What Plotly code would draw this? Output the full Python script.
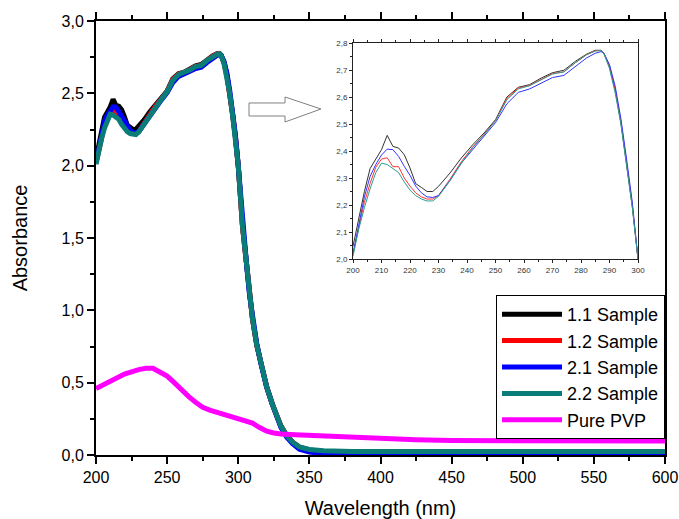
import plotly.graph_objects as go

# ---------------- data ----------------
wl_uv = [200, 202, 204, 206, 208, 210, 212, 214, 216, 218, 220, 222, 224, 226, 228,
         230, 234, 238, 242, 246, 250, 254, 258, 262, 266, 270, 274, 278, 282, 285,
         287, 288, 290, 292, 294, 296, 298, 300]
wl_tail = [303, 306, 308, 310, 313, 316, 320, 324, 327, 330, 334, 338, 343, 350, 360,
           380, 420, 500, 600]

s11_uv = [2.047, 2.15, 2.25, 2.335, 2.37, 2.405, 2.458, 2.417, 2.411, 2.386, 2.337, 2.279,
          2.265, 2.25, 2.25, 2.269, 2.318, 2.374, 2.423, 2.467, 2.516, 2.60, 2.636, 2.646,
          2.67, 2.69, 2.699, 2.732, 2.759, 2.773, 2.773, 2.763, 2.714, 2.627, 2.504, 2.356,
          2.195, 2.0]
s12_uv = [2.02, 2.12, 2.21, 2.28, 2.34, 2.37, 2.375, 2.342, 2.342, 2.30, 2.27, 2.245,
          2.23, 2.222, 2.222, 2.235, 2.295, 2.36, 2.415, 2.462, 2.513, 2.595, 2.633, 2.643,
          2.665, 2.687, 2.693, 2.727, 2.757, 2.772, 2.772, 2.762, 2.712, 2.625, 2.51, 2.36,
          2.20, 2.0]
s21_uv = [2.02, 2.13, 2.23, 2.306, 2.35, 2.385, 2.407, 2.405, 2.38, 2.343, 2.31, 2.27,
          2.245, 2.23, 2.228, 2.235, 2.29, 2.355, 2.405, 2.455, 2.505, 2.575, 2.617, 2.63,
          2.652, 2.672, 2.68, 2.713, 2.745, 2.762, 2.768, 2.763, 2.72, 2.64, 2.52, 2.37,
          2.21, 2.0]
s22_uv = [2.01, 2.11, 2.19, 2.26, 2.32, 2.355, 2.35, 2.335, 2.32, 2.285, 2.255, 2.235,
          2.222, 2.215, 2.215, 2.232, 2.29, 2.355, 2.412, 2.46, 2.512, 2.59, 2.63, 2.642,
          2.662, 2.685, 2.693, 2.727, 2.757, 2.77, 2.772, 2.762, 2.705, 2.615, 2.5, 2.35,
          2.19, 2.0]

s11_tail = [1.58, 1.28, 1.08, 0.94, 0.76, 0.62, 0.47, 0.35, 0.27, 0.20, 0.135, 0.09,
            0.055, 0.035, 0.025, 0.02, 0.02, 0.02, 0.02]
s12_tail = [1.58, 1.28, 1.08, 0.94, 0.76, 0.62, 0.47, 0.35, 0.27, 0.20, 0.135, 0.09,
            0.05, 0.03, 0.02, 0.015, 0.015, 0.015, 0.015]
s21_tail = [1.60, 1.30, 1.10, 0.96, 0.77, 0.63, 0.47, 0.35, 0.26, 0.19, 0.125, 0.08,
            0.04, 0.02, 0.01, 0.006, 0.006, 0.006, 0.006]
s22_tail = [1.58, 1.28, 1.08, 0.94, 0.76, 0.62, 0.47, 0.35, 0.27, 0.20, 0.135, 0.09,
            0.055, 0.038, 0.03, 0.025, 0.025, 0.025, 0.025]

wl_pvp = [200, 210, 220, 230, 235, 240, 245, 250, 255, 260, 265, 270, 275, 280, 290,
          300, 305, 310, 315, 320, 325, 330, 340, 350, 375, 400, 425, 450, 500, 550, 600]
pvp = [0.46, 0.51, 0.56, 0.59, 0.60, 0.60, 0.575, 0.545, 0.50, 0.45, 0.405, 0.365, 0.33,
       0.31, 0.28, 0.255, 0.24, 0.22, 0.19, 0.165, 0.152, 0.145, 0.14, 0.135, 0.125,
       0.112, 0.105, 0.10, 0.10, 0.097, 0.097]

names = ["1.1 Sample", "1.2 Sample", "2.1 Sample", "2.2 Sample", "Pure PVP"]
main_colors = ["#000000", "#ff0000", "#0000ff", "#0b7d78", "#ff00ff"]
inset_colors = ["#333333", "#ff3333", "#3333ff", "#2aa08f"]

wl = wl_uv + wl_tail
samples = [s11_uv + s11_tail, s12_uv + s12_tail, s21_uv + s21_tail, s22_uv + s22_tail]

FONT = "Arial, Liberation Sans, sans-serif"

fig = go.Figure()
for name, ys, c in zip(names[:4], samples, main_colors[:4]):
    fig.add_trace(go.Scatter(x=wl, y=ys, mode="lines", name=name,
                             line=dict(color=c, width=5), xaxis="x", yaxis="y"))
fig.add_trace(go.Scatter(x=wl_pvp, y=pvp, mode="lines", name=names[4],
                         line=dict(color=main_colors[4], width=5), xaxis="x", yaxis="y"))

for name, ys, c in zip(names[:4], samples, inset_colors):
    fig.add_trace(go.Scatter(x=wl, y=ys, mode="lines", name=name, showlegend=False,
                             line=dict(color=c, width=1), xaxis="x2", yaxis="y2"))

# pixel -> paper helpers (plot area 96..665 x, 21..455 y)
L, R, T, B = 96, 665, 21, 455
def px(xp):
    return (xp - L) / (R - L)
def py(yp):
    return (B - yp) / (B - T)

arrow_pts = [(249, 103), (285, 103), (285, 97), (321, 109), (285, 122), (285, 116), (249, 116)]
path = "M " + " L ".join(f"{px(a):.4f},{py(b):.4f}" for a, b in arrow_pts) + " Z"

fig.update_layout(
    width=679, height=519,
    margin=dict(l=L, r=679 - R, t=T, b=519 - B, autoexpand=False),
    paper_bgcolor="white", plot_bgcolor="white",
    separators=",.",
    font=dict(family=FONT, color="#000000"),
    showlegend=True,
    legend=dict(x=1, xanchor="right", y=py(295), yanchor="top",
                bgcolor="white", bordercolor="#000000", borderwidth=1,
                font=dict(size=18, family=FONT), itemwidth=60,
                tracegroupgap=0),
    xaxis=dict(range=[200, 600], tickmode="linear", tick0=200, dtick=50,
               ticks="outside", ticklen=7, tickwidth=1.5, tickcolor="#000",
               minor=dict(ticks="outside", ticklen=4, dtick=25, tickwidth=1.5, tickcolor="#000"),
               showline=True, linecolor="#000", linewidth=2, mirror="ticks",
               showgrid=False, zeroline=False, tickfont=dict(size=16), automargin=False,
               title=dict(text="Wavelength (nm)", font=dict(size=20), standoff=16)),
    yaxis=dict(range=[0, 3.0], tickmode="linear", tick0=0, dtick=0.5, tickformat=".1f",
               ticks="outside", ticklen=7, tickwidth=1.5, tickcolor="#000",
               minor=dict(ticks="outside", ticklen=4, dtick=0.25, tickwidth=1.5, tickcolor="#000"),
               showline=True, linecolor="#000", linewidth=2, mirror=True,
               showgrid=False, zeroline=False, tickfont=dict(size=16), automargin=False,
               title=dict(text="Absorbance", font=dict(size=20), standoff=29)),
    xaxis2=dict(domain=[px(353), px(638)], anchor="y2", range=[200, 300],
                tickmode="linear", tick0=200, dtick=10,
                ticks="outside", ticklen=3, tickcolor="#222",
                minor=dict(ticks="outside", ticklen=2, dtick=5, tickcolor="#222"),
                showline=True, linecolor="#222", linewidth=1, mirror="ticks",
                showgrid=False, zeroline=False, automargin=False,
                tickfont=dict(size=8, color="#333")),
    yaxis2=dict(domain=[py(259), py(43)], anchor="x2", range=[2.0, 2.8],
                tickmode="linear", tick0=2.0, dtick=0.1, tickformat=".1f",
                ticks="outside", ticklen=3, tickcolor="#222",
                minor=dict(ticks="outside", ticklen=2, dtick=0.05, tickcolor="#222"),
                showline=True, linecolor="#222", linewidth=1, mirror=True,
                showgrid=False, zeroline=False, automargin=False,
                tickfont=dict(size=8, color="#333")),
    shapes=[dict(type="path", xref="paper", yref="paper", path=path,
                 line=dict(color="#808080", width=1), fillcolor="white")],
)

fig.write_html("out.html", config={"displayModeBar": False},
               post_script="document.body.style.margin='0';document.body.style.overflow='hidden';")
